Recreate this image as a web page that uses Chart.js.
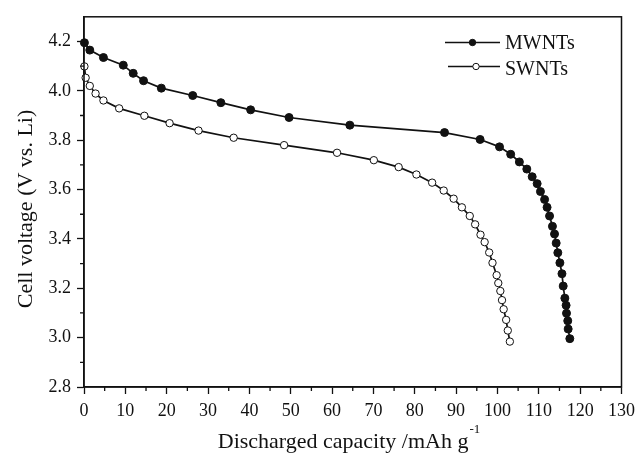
<!DOCTYPE html>
<html>
<head>
<meta charset="utf-8">
<script src="https://cdn.jsdelivr.net/npm/chart.js@4.4.0/dist/chart.umd.min.js"></script>
<style>
  html, body { margin: 0; padding: 0; background: #fff; }
  #wrap { width: 641px; height: 456px; }
</style>
</head>
<body>
<div id="wrap"><canvas id="chart" width="641" height="456"></canvas></div>
<script>
// discharge curves
const mwntCapacity = [0.1, 1.4, 4.7, 9.5, 11.9, 14.4, 18.7, 26.3, 33.1, 40.3,
    49.6, 64.3, 87.2, 95.8, 100.5, 103.2, 105.3, 107.1, 108.4, 109.6,
    110.4, 111.4, 112.0, 112.6, 113.3, 113.8, 114.2, 114.6, 115.1, 115.6,
    115.9, 116.3, 116.6, 116.7, 117.0, 117.1, 117.5];
const mwntVoltage = [4.195, 4.165, 4.135, 4.104, 4.071, 4.041, 4.011, 3.981, 3.952, 3.923,
    3.892, 3.861, 3.831, 3.803, 3.773, 3.743, 3.712, 3.683, 3.652, 3.624,
    3.592, 3.56, 3.528, 3.493, 3.451, 3.42, 3.383, 3.344, 3.303, 3.259,
    3.209, 3.16, 3.131, 3.099, 3.068, 3.035, 2.996];

const swntCapacity = [0.1, 0.4, 1.4, 2.8, 4.7, 8.5, 14.6, 20.7, 27.7, 36.2,
    48.4, 61.2, 70.1, 76.1, 80.4, 84.2, 87.0, 89.4, 91.4, 93.3,
    94.6, 95.9, 96.9, 98.0, 98.8, 99.8, 100.2, 100.7, 101.1, 101.5,
    102.1, 102.5, 103.0];
const swntVoltage = [4.099, 4.053, 4.02, 3.989, 3.961, 3.929, 3.899, 3.869, 3.839, 3.81,
    3.78, 3.749, 3.719, 3.691, 3.661, 3.628, 3.596, 3.563, 3.528, 3.493,
    3.459, 3.417, 3.387, 3.345, 3.303, 3.253, 3.221, 3.189, 3.152, 3.115,
    3.072, 3.029, 2.984];

const seriesNames = ['MWNTs', 'SWNTs'];
const xTitle = 'Discharged capacity /mAh g';
const xTitleSup = '-1';
const yTitle = 'Cell voltage (V vs. Li)';

const FONT = '"Liberation Serif", "Times New Roman", serif';

function toPoints(xs, ys) {
    return xs.map((x, i) => ({ x: x, y: ys[i] }));
}

// frame, minor ticks, axis titles, legend
const extras = {
    id: 'extras',
    afterDraw(chart) {
        const ctx = chart.ctx;
        const a = chart.chartArea;
        const xs = chart.scales.x, ys = chart.scales.y;
        ctx.save();
        ctx.strokeStyle = '#111';
        ctx.lineWidth = 1.5;
        ctx.strokeRect(a.left, a.top, a.right - a.left, a.bottom - a.top);

        ctx.lineWidth = 1.3;
        ctx.beginPath();
        for (let v = 5; v < 130; v += 10) {
            const px = xs.getPixelForValue(v);
            ctx.moveTo(px, a.bottom);
            ctx.lineTo(px, a.bottom + 4);
        }
        for (let k = 0; k < 7; k++) {
            const py = ys.getPixelForValue(2.9 + k * 0.2);
            ctx.moveTo(a.left, py);
            ctx.lineTo(a.left - 4, py);
        }
        ctx.stroke();

        // x title with superscript
        ctx.fillStyle = '#111';
        ctx.font = '22px ' + FONT;
        const w1 = ctx.measureText(xTitle).width;
        ctx.font = '13px ' + FONT;
        const w2 = ctx.measureText(xTitleSup).width;
        const x0 = 349 - (w1 + w2 + 1) / 2;
        ctx.font = '22px ' + FONT;
        ctx.textAlign = 'left';
        ctx.textBaseline = 'alphabetic';
        ctx.fillText(xTitle, x0, 448);
        ctx.font = '13px ' + FONT;
        ctx.fillText(xTitleSup, x0 + w1 + 1, 433);

        // y title
        ctx.save();
        ctx.translate(32, 209);
        ctx.rotate(-Math.PI / 2);
        ctx.font = '22px ' + FONT;
        ctx.textAlign = 'center';
        ctx.fillText(yTitle, 0, 0);
        ctx.restore();

        // legend
        const rows = [
            { y: 42.5, x1: 445, xm: 472.5, fill: '#111', ty: 48.5 },
            { y: 66.5, x1: 448, xm: 476, fill: '#fff', ty: 74.5 }
        ];
        rows.forEach((r, i) => {
            ctx.strokeStyle = '#111';
            ctx.lineWidth = 1.6;
            ctx.beginPath();
            ctx.moveTo(r.x1, r.y);
            ctx.lineTo(500, r.y);
            ctx.stroke();
            ctx.beginPath();
            ctx.arc(r.xm, r.y, 3.2, 0, Math.PI * 2);
            ctx.fillStyle = r.fill;
            ctx.fill();
            ctx.lineWidth = 1;
            ctx.stroke();
            ctx.fillStyle = '#111';
            ctx.font = '20px ' + FONT;
            ctx.textAlign = 'left';
            ctx.fillText(seriesNames[i], 505, r.ty);
        });
        ctx.restore();
    }
};

new Chart(document.getElementById('chart').getContext('2d'), {
    type: 'scatter',
    data: {
        datasets: [{
            label: seriesNames[0],
            data: toPoints(mwntCapacity, mwntVoltage),
            showLine: true,
            borderColor: '#111',
            borderWidth: 1.7,
            pointRadius: 4,
            pointBorderWidth: 1,
            pointBackgroundColor: '#111',
            pointBorderColor: '#111',
            clip: false
        }, {
            label: seriesNames[1],
            data: toPoints(swntCapacity, swntVoltage),
            showLine: true,
            borderColor: '#111',
            borderWidth: 1.7,
            pointRadius: 3.7,
            pointBorderWidth: 1,
            pointBackgroundColor: '#fff',
            pointBorderColor: '#111',
            clip: false
        }]
    },
    options: {
        responsive: false,
        animation: false,
        layout: { padding: { top: 13, right: 15, bottom: 0, left: 0 } },
        plugins: {
            legend: { display: false },
            tooltip: { enabled: false }
        },
        scales: {
            x: {
                type: 'linear',
                min: 0,
                max: 130,
                afterFit(scale) { scale.height = 69; },
                border: { color: '#111', width: 1.5 },
                grid: { drawOnChartArea: false, drawTicks: true, tickLength: 7, color: '#111', tickWidth: 1.3 },
                ticks: {
                    stepSize: 10,
                    padding: 6,
                    color: '#111',
                    maxRotation: 0,
                    font: { family: FONT, size: 18 }
                }
            },
            y: {
                type: 'linear',
                min: 2.8,
                max: 4.3,
                afterFit(scale) { scale.width = 84; },
                border: { color: '#111', width: 1.5 },
                grid: { drawOnChartArea: false, drawTicks: true, tickLength: 7, color: '#111', tickWidth: 1.3 },
                ticks: {
                    stepSize: 0.2,
                    includeBounds: false,
                    padding: 6,
                    color: '#111',
                    font: { family: FONT, size: 18 },
                    callback: v => v.toFixed(1)
                }
            }
        }
    },
    plugins: [extras]
});
</script>
</body>
</html>
